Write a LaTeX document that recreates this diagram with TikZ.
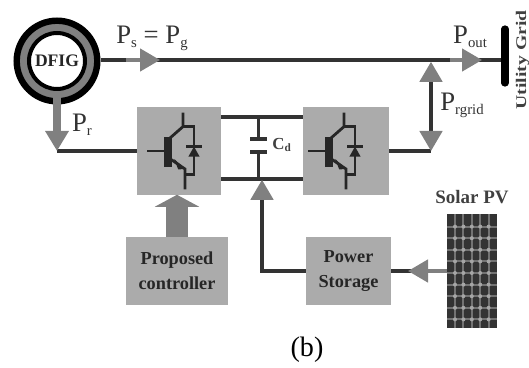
\documentclass[tikz,border=0pt]{standalone}
\usepackage{fontspec}
\setmainfont{Liberation Serif}
\usepackage{xcolor}
\usetikzlibrary{arrows.meta}
\definecolor{boxgray}{HTML}{ABABAB}
\definecolor{headgray}{HTML}{808080}
\definecolor{wiredark}{HTML}{333333}
\newcommand{\psub}[1]{P\raisebox{-3pt}{\fontsize{10.5}{11}\selectfont #1}}
\tikzset{
  igbt/.pic={
    \draw[line width=.06cm, black!85] (-.8,0) -- (-.275,0);
    \draw[line width=.18cm, black!85] (-.275,.36) -- (-.275,-.39);
    \draw[line width=.07cm, black!85] (.1,.96) -- (.1,.61) -- (-.275,.28);
    \draw[line width=.07cm, black!85] (.1,.61) -- (.375,.61) -- (.375,-.59) -- (.15,-.59);
    \draw[line width=.07cm, black!85] (-.275,-.16) -- (.15,-.45) -- (.15,-.96);
    \draw[line width=.07cm, black!85] (.175,.11) -- (.575,.11);
    \fill[black!85] (.375,.11) -- (.235,-.14) -- (.515,-.14) -- cycle;
    \fill[black!85] (.15,-.45) -- (-.12,-.2) -- (-.02,-.46) -- cycle;
  }
}
\begin{document}
\begin{tikzpicture}[
  wire/.style={line width=.085cm, draw=wiredark},
  head/.style={-{Triangle[width=.56cm,length=.5cm,color=headgray]}},
  parrow/.style={head, line width=.085cm, draw=headgray},
  gbox/.style={fill=boxgray, inner sep=0pt, align=center, font=\fontsize{13}{17.5}\selectfont\bfseries, text=black!85},
  plabel/.style={inner sep=0pt, text=black!80, font=\fontsize{19}{21}\selectfont},
  blabel/.style={inner sep=0pt, text=black!75, font=\fontsize{13.5}{15}\selectfont\bfseries},
]
\useasboundingbox (0,0) rectangle (13.225,9.175);
% generator
\node[circle, draw=black, line width=.16cm, fill=headgray, minimum size=2.015cm] (ring) at (1.425,7.65) {};
\node[circle, draw=black, line width=.1cm, fill=white, minimum size=1.4cm, inner sep=0pt, font=\fontsize{12.5}{14}\selectfont\bfseries, text=black!85] (dfig) at (1.425,7.65) {DFIG};
% grid bus
\coordinate (bustop) at (12.625,8.45);
\coordinate (busbot) at (12.625,7.1);
\coordinate (busin) at (12.625,7.675);
\draw[wire] (ring.east |- busin) -- (busin);
\draw[line width=.18cm, line cap=round] (bustop) -- (busbot);
\node[blabel, rotate=90, yscale=.75, font=\fontsize{14}{16}\selectfont\bfseries] (grid) at (13.0625,7.675) {Utility Grid};
% converters
\node[gbox, minimum width=2.1cm, minimum height=2.175cm] (conv1) at (4.475,5.4) {};
\node[gbox, minimum width=2.15cm, minimum height=2.175cm] (conv2) at (8.65,5.4) {};
\pic at (4.475,5.4) {igbt};
\pic at (8.5,5.4) {igbt};
\node[gbox, minimum width=2.55cm, minimum height=1.7cm] (ctrl) at (4.425,2.4) {Proposed\\controller};
\node[gbox, minimum width=2.125cm, minimum height=1.7cm] (store) at (8.7125,2.4) {Power\\Storage};
% dc link
\coordinate (dctop) at (6.46,6.25);
\coordinate (dcbot) at (6.46,4.7);
\coordinate (plate1) at (6.46,5.7);
\coordinate (plate2) at (6.46,5.375);
\draw[wire] (conv1.east |- dctop) -- (conv2.west |- dctop);
\draw[wire] (conv1.east |- dcbot) -- (conv2.west |- dcbot);
\draw[wire] (dctop) -- (plate1);
\draw[wire] (plate2) -- (dcbot);
\draw[wire] ([xshift=-.21cm]plate1) -- ([xshift=.21cm]plate1);
\draw[wire] ([xshift=-.21cm]plate2) -- ([xshift=.21cm]plate2);
\node[blabel, font=\fontsize{12}{14}\selectfont\bfseries] (cd) at (7.05,5.55) {C\textsubscript{d}};
% rotor side
\coordinate (rotor) at (1.425,5.4);
\draw[wire] (rotor) -- (conv1.west);
\draw[parrow, line width=.2cm] (dfig.south) -- (rotor);
\node[plabel] (pr) at (2.05,6.05) {\psub{r}};
% arrows on the main line
\coordinate (ps1) at (3.15,7.675);
\coordinate (ps2) at (4.0,7.675);
\draw[parrow] (ps1) -- (ps2);
\node[plabel] (pspg) at (3.8,8.225) {\psub{s} = \psub{g}};
\coordinate (pout1) at (11.25,7.675);
\coordinate (pout2) at (12.05,7.675);
\draw[parrow] (pout1) -- (pout2);
\node[plabel] (pout) at (11.75,8.25) {\psub{out}};
% grid side
\coordinate (tap) at (10.775,7.63);
\coordinate (gside) at (10.775,5.4);
\draw[wire] (conv2.east) -- (gside);
\draw[wire, {Triangle[width=.56cm,length=.5cm,color=headgray]}-{Triangle[width=.56cm,length=.5cm,color=headgray]}] (tap) -- (gside);
\node[plabel] (prgrid) at (11.55,6.55) {\psub{rgrid}};
% controller and storage
\draw[head, -{Triangle[width=1.1cm,length=.3cm,color=headgray]}, line width=.57cm, draw=headgray] (ctrl.north) -- (conv1.south -| ctrl.north);
\coordinate (dcin) at (6.55,4.68);
\draw[wire, head] (store.west) -| (dcin);
% solar panel
\node[fill=wiredark, inner sep=0pt, minimum width=1.25cm, minimum height=2.85cm] (pv) at (11.8,2.4) {};
\foreach \x in {0,...,4} {
  \draw[black!55, line width=.05cm] (11.375+\x*.21,.975) -- (11.375+\x*.21,3.825);
}
\foreach \y in {0,...,8} {
  \draw[black!55, line width=.05cm] (11.175,3.51-\y*.29) -- (12.425,3.51-\y*.29);
}
\foreach \x in {0,...,4} {
  \foreach \y in {0,...,8} {
    \fill[gray!70] (11.375+\x*.21,3.51-\y*.29) circle (.05);
  }
}
\node[blabel] (pvlabel) at (11.8,4.25) {Solar PV};
\draw[wire] (store.east) -- (pv.west);
\coordinate (pvtip) at (10.2,2.4);
\draw[parrow] (pv.west) -- (pvtip);
% caption
\node[inner sep=0pt, font=\fontsize{20}{22}\selectfont] (cap) at (7.675,.42) {(b)};
\end{tikzpicture}
\end{document}
